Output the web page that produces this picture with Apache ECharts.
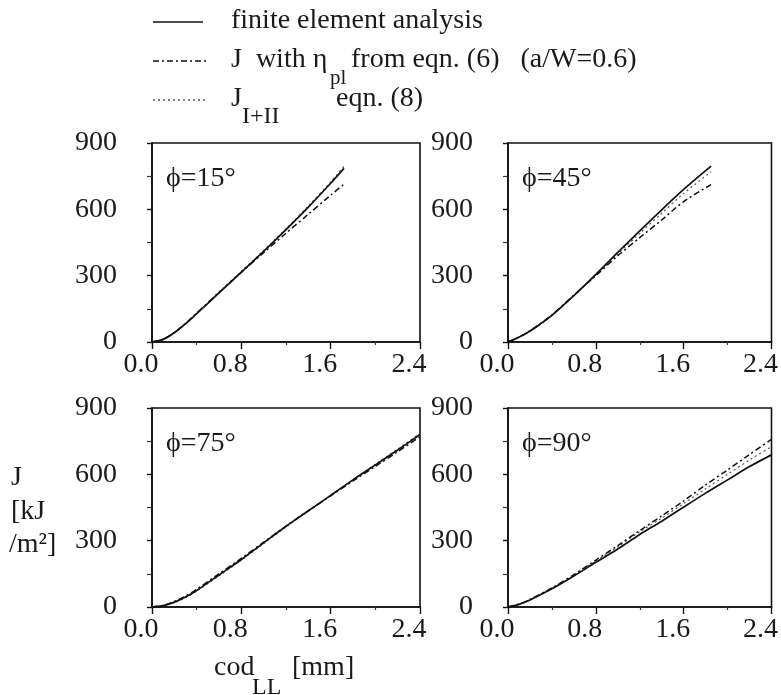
<!DOCTYPE html>
<html>
<head>
<meta charset="utf-8">
<script src="https://cdn.jsdelivr.net/npm/echarts@6/dist/echarts.min.js"></script>
<style>html,body{margin:0;padding:0;background:#fff}#c{width:781px;height:695px}</style>
</head>
<body>
<div id="c"></div>
<script>
// ---- data (cod_LL [mm], J [kJ/m^2]) ----
const panelAngles = ['15', '45', '75', '90'];
const xTickLabels = ['0.0', '0.8', '1.6', '2.4'];
const yTickLabels = ['0', '300', '600', '900'];

const fea15 = [[0,0],[0.1,12],[0.2,42],[0.3,82],[0.4,128],[0.6,222],[0.8,316],[1.0,410],[1.2,508],[1.4,610],[1.6,718],[1.72,785]];
const eta15 = [[0,0],[0.1,12],[0.2,43],[0.3,84],[0.4,130],[0.6,224],[0.8,315],[1.0,404],[1.2,492],[1.4,578],[1.6,664],[1.72,714]];
const jI15  = [[0,0],[0.1,13],[0.2,44],[0.3,85],[0.4,131],[0.6,226],[0.8,320],[1.0,414],[1.2,512],[1.4,615],[1.6,724],[1.72,795]];

const fea45 = [[0,0],[0.14,32],[0.26,69],[0.4,120],[0.6,210],[0.8,306],[1.0,405],[1.2,503],[1.4,598],[1.6,690],[1.85,795]];
const eta45 = [[0,0],[0.14,33],[0.26,71],[0.4,123],[0.6,212],[0.8,300],[1.0,390],[1.2,472],[1.4,552],[1.6,635],[1.85,712]];
const jI45  = [[0,0],[0.14,32],[0.26,70],[0.4,121],[0.6,209],[0.8,303],[1.0,398],[1.2,492],[1.4,582],[1.6,672],[1.85,770]];

const fea75 = [[0,0],[0.1,6],[0.2,22],[0.3,45],[0.4,75],[0.6,145],[0.8,215],[1.0,290],[1.2,365],[1.4,435],[1.6,505],[1.8,575],[2.0,642],[2.2,710],[2.4,780]];
const eta75 = [[0,0],[0.1,7],[0.2,25],[0.3,49],[0.4,80],[0.6,150],[0.8,220],[1.0,293],[1.2,366],[1.4,435],[1.6,503],[1.8,570],[2.0,636],[2.2,702],[2.4,770]];
const jI75  = [[0,0],[0.1,5],[0.2,20],[0.3,42],[0.4,72],[0.6,141],[0.8,212],[1.0,287],[1.2,362],[1.4,433],[1.6,504],[1.8,576],[2.0,645],[2.2,714],[2.4,785]];

const fea90 = [[0,0],[0.1,12],[0.2,32],[0.4,82],[0.6,140],[0.8,202],[1.0,262],[1.2,328],[1.4,388],[1.6,452],[1.8,515],[2.0,575],[2.2,635],[2.4,688]];
const eta90 = [[0,0],[0.1,13],[0.2,34],[0.4,86],[0.6,146],[0.8,212],[1.0,278],[1.2,346],[1.4,412],[1.6,480],[1.8,552],[2.0,620],[2.2,690],[2.4,758]];
const jI90  = [[0,0],[0.1,12],[0.2,33],[0.4,84],[0.6,144],[0.8,208],[1.0,272],[1.2,340],[1.4,402],[1.6,468],[1.8,535],[2.0,600],[2.2,665],[2.4,725]];

const feaData = [fea15, fea45, fea75, fea90];
const etaData = [eta15, eta45, eta75, eta90];
const jIData  = [jI15, jI45, jI75, jI90];

// ---- layout ----
const FONT = "'Liberation Serif', 'DejaVu Serif', serif";
const TXT = '#1a1a1a';
const grids = [
  {left: 152, top: 143, width: 268, height: 199},
  {left: 508, top: 143, width: 267, height: 199},
  {left: 152, top: 408, width: 268, height: 199},
  {left: 508, top: 408, width: 267, height: 199}
];

const chart = echarts.init(document.getElementById('c'), null, {renderer: 'canvas'});

const xAxes = grids.map((g, i) => ({
  gridIndex: i, type: 'value', min: 0, max: 2.4, interval: 0.8,
  axisLine: {show: true, onZero: false, lineStyle: {color: '#111', width: 1.6}},
  axisTick: {show: true, length: 7, lineStyle: {color: '#111', width: 1.4}},
  minorTick: {show: true, splitNumber: 2, length: 3, lineStyle: {color: '#333', width: 1.2}},
  splitLine: {show: false},
  axisLabel: {
    fontFamily: FONT, fontSize: 28, color: TXT, margin: 9,
    padding: [0, 22, 0, 0],
    formatter: (v) => xTickLabels[Math.round(v / 0.8)]
  }
}));
const yAxes = grids.map((g, i) => ({
  gridIndex: i, type: 'value', min: 0, max: 900, interval: 300,
  axisLine: {show: true, onZero: false, lineStyle: {color: '#111', width: 1.6}},
  axisTick: {show: true, length: 5, lineStyle: {color: '#111', width: 1.4}},
  minorTick: {show: true, splitNumber: 2, length: 5, lineStyle: {color: '#333', width: 1.2}},
  splitLine: {show: false},
  axisLabel: {
    fontFamily: FONT, fontSize: 28, color: TXT, margin: 35,
    formatter: (v) => yTickLabels[Math.round(v / 300)]
  }
}));

const series = [];
for (let i = 0; i < 4; i++) {
  series.push({
    type: 'line', xAxisIndex: i, yAxisIndex: i, data: jIData[i], smooth: 0.3,
    showSymbol: false, symbol: 'none', silent: true,
    lineStyle: {color: '#555', width: 1.2, type: [2, 3]}
  });
  series.push({
    type: 'line', xAxisIndex: i, yAxisIndex: i, data: etaData[i], smooth: 0.3,
    showSymbol: false, symbol: 'none', silent: true,
    lineStyle: {color: '#111', width: 1.5, type: [6, 3, 2, 3]}
  });
  series.push({
    type: 'line', xAxisIndex: i, yAxisIndex: i, data: feaData[i], smooth: 0.3,
    showSymbol: false, symbol: 'none', silent: true,
    lineStyle: {color: '#111', width: 1.7}
  });
}

const txt = (x, y, text, size, extra) => Object.assign({
  type: 'text', x: x, y: y,
  style: {text: text, fontFamily: FONT, fontSize: size || 28, fill: TXT, verticalAlign: 'middle', align: 'left'}
}, extra || {});

const graphics = [];
// panel labels
const lblPos = [[166, 179], [522, 179], [166, 444], [522, 444]];
panelAngles.forEach((a, i) => {
  graphics.push(txt(lblPos[i][0], lblPos[i][1], '\u03D5=' + a + '\u00B0', 28));
});
// legend swatches
graphics.push({type: 'line', shape: {x1: 153, y1: 22, x2: 203, y2: 22}, style: {stroke: '#111', lineWidth: 1.6}});
graphics.push({type: 'line', shape: {x1: 153, y1: 61, x2: 207, y2: 61}, style: {stroke: '#111', lineWidth: 1.6, lineDash: [6, 3, 2, 3]}});
graphics.push({type: 'line', shape: {x1: 153, y1: 100, x2: 207, y2: 100}, style: {stroke: '#555', lineWidth: 1.3, lineDash: [2, 3]}});
// legend texts
graphics.push(txt(231, 21, 'finite element analysis'));
graphics.push(txt(231, 60, 'J  with \u03B7'));
graphics.push(txt(330, 78, 'pl', 21));
graphics.push(txt(351, 60, 'from eqn. (6)   (a/W=0.6)'));
graphics.push(txt(231, 99, 'J'));
graphics.push(txt(242, 117, 'I+II', 24));
graphics.push(txt(336, 99, 'eqn. (8)'));
// y-axis title
graphics.push(txt(11, 478, 'J'));
graphics.push(txt(11, 512, '[kJ'));
graphics.push(txt(9, 545, '/m\u00B2]'));
// x-axis title
graphics.push(txt(214, 668, 'cod'));
graphics.push(txt(252, 688, 'LL', 24));
graphics.push(txt(292, 668, '[mm]'));

chart.setOption({
  backgroundColor: '#fff',
  animation: false,
  grid: grids.map(g => Object.assign({show: true, borderColor: '#111', borderWidth: 1.6, backgroundColor: 'transparent', containLabel: false}, g)),
  xAxis: xAxes,
  yAxis: yAxes,
  series: series,
  graphic: graphics
});
</script>
</body>
</html>
